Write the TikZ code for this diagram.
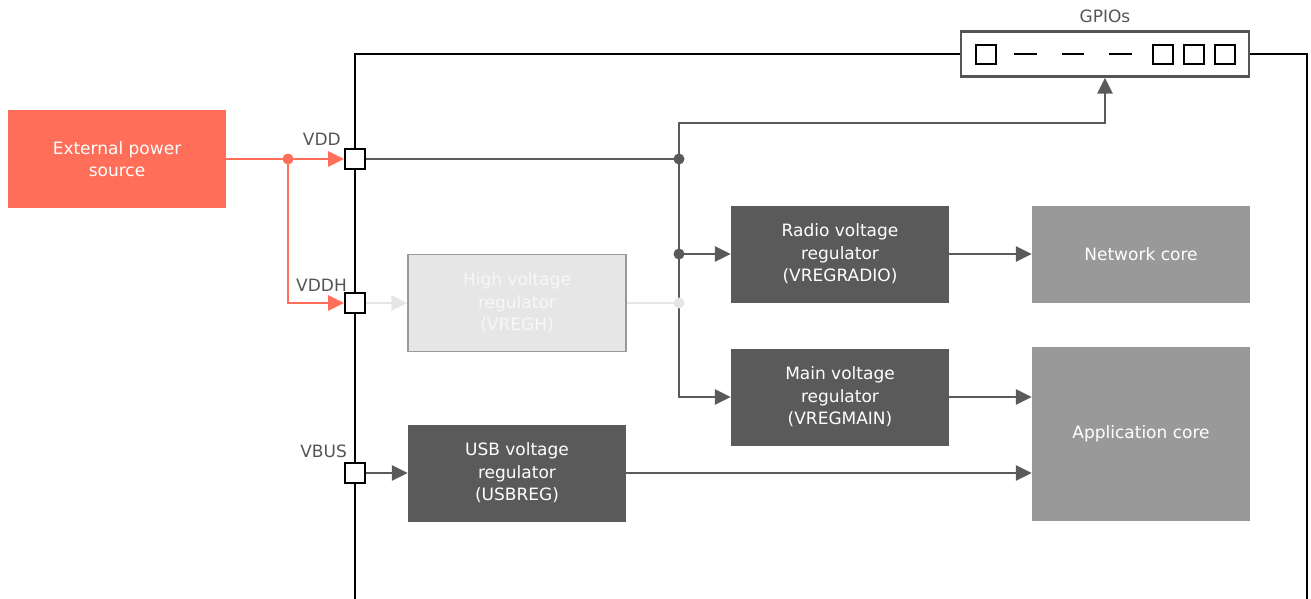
\documentclass[tikz,border=0pt]{standalone}
\usepackage{fontspec}
\setmainfont{DejaVu Sans}
\usepackage{xcolor}
\usetikzlibrary{arrows.meta}

\begin{document}
\begin{tikzpicture}[x=1pt,y=-1pt]

% Colori
\definecolor{colPwr}{HTML}{FF6E59}
\definecolor{colReg}{HTML}{5A5A5A}
\definecolor{colCore}{HTML}{999999}
\definecolor{colOff}{HTML}{E6E6E6}
\definecolor{colOffTxt}{HTML}{F7F7F7}
\definecolor{lineGray}{HTML}{5A5A5A}
\definecolor{txtGray}{HTML}{555555}

\tikzset{
  blk/.style={minimum width=218pt, minimum height=97pt, inner sep=0pt,
    align=center, text=white, font=\fontsize{17}{22.5}\selectfont},
  pinbox/.style={draw=black, fill=white, line width=1.8pt,
    minimum size=20pt, inner sep=0pt},
  lbl/.style={anchor=base east, text=txtGray, inner sep=0pt,
    font=\fontsize{17}{20}\selectfont},
  conn/.style={draw=lineGray, line width=2.6pt},
  pwr/.style={draw=colPwr, line width=2.6pt},
  off/.style={draw=colOff, line width=2.6pt},
  tip/.style={-{Triangle[length=16pt,width=15pt]}},
}

\useasboundingbox (0,0) rectangle (1311,599);

% Bordo del chip e GPIO
\node[draw=txtGray, fill=white, line width=2.4pt, minimum width=288pt,
  minimum height=45pt, inner sep=0pt] (gpio) at (1105,54) {};
\node[lbl, anchor=base] (gpioLbl) at (1105,23) {GPIOs};
\draw[black, line width=2.4pt] (355,600) -- (355,54) -- (gpio.west);
\draw[black, line width=2.4pt] (gpio.east) -- (1307,54) -- (1307,600);

% Pin del GPIO
\draw[black, line width=1.8pt] (976,45) rectangle (996,64);
\draw[black, line width=1.8pt] (1014,54) -- (1037,54);
\draw[black, line width=1.8pt] (1062,54) -- (1084,54);
\draw[black, line width=1.8pt] (1109,54) -- (1132,54);
\draw[black, line width=1.8pt] (1153,45) rectangle (1173,64);
\draw[black, line width=1.8pt] (1184,45) rectangle (1204,64);
\draw[black, line width=1.8pt] (1215,45) rectangle (1235,64);

% Blocchi
\node[blk, fill=colPwr] (ext) at (117,159) {External power\\source};
\node[blk, fill=colOff, draw=colCore, line width=1.4pt, text=colOffTxt] (hv) at (517,303) {High voltage\\regulator\\(VREGH)};
\node[blk, fill=colReg] (radio) at (840,254) {Radio voltage\\regulator\\(VREGRADIO)};
\node[blk, fill=colReg] (main) at (840,397) {Main voltage\\regulator\\(VREGMAIN)};
\node[blk, fill=colReg] (usb) at (517,473) {USB voltage\\regulator\\(USBREG)};
\node[blk, fill=colCore] (net) at (1141,254) {Network core};
\node[blk, fill=colCore, minimum height=174pt] (app) at (1141,434) {Application core};

% Pin di alimentazione
\node[pinbox] (pinVDD) at (355,159) {};
\node[pinbox] (pinVDDH) at (355,303) {};
\node[pinbox] (pinVBUS) at (355,473) {};
\node[lbl] (lVDD) at (341,146) {VDD};
\node[lbl] (lVDDH) at (347,291) {VDDH};
\node[lbl] (lVBUS) at (347,457) {VBUS};

% Sorgente esterna
\coordinate (jExt) at (288,159);
\draw[pwr, tip] (ext.east) -- (pinVDD.west);
\draw[pwr, tip] (jExt) |- (pinVDDH.west);
\fill[colPwr] (jExt) circle (5.5pt);

% Distribuzione VDD
\coordinate (j1) at (679,159);
\coordinate (j2) at (679,254);
\coordinate (jTop) at (679,123);
\coordinate (jH) at (679,303);
\draw[conn] (pinVDD.east) -- (j1);
\draw[conn, tip] (j1) -- (jTop) -| (gpio.south);
\draw[conn, tip] (j1) |- (main.west);
\draw[conn, tip] (j2) -- (radio.west);
\fill[lineGray] (j1) circle (5.5pt);
\fill[lineGray] (j2) circle (5.5pt);

% Regolatore VREGH (disattivo)
\draw[off, tip] (pinVDDH.east) -- (hv.west);
\draw[off] (hv.east) -- (jH);
\fill[colOff] (jH) circle (5.5pt);

% USB e core
\draw[conn, tip] (pinVBUS.east) -- (usb.west);
\draw[conn, tip] (radio.east) -- (net.west);
\draw[conn, tip] (main.east) -- (app.west |- main.east);
\draw[conn, tip] (usb.east) -- (app.west |- usb.east);

\end{tikzpicture}
\end{document}
